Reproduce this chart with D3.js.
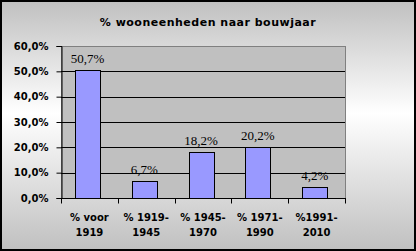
<!DOCTYPE html>
<html>
<head>
<meta charset="utf-8">
<script src="https://cdn.jsdelivr.net/npm/d3@7"></script>
<style>
  html, body { margin: 0; padding: 0; background: #fff; }
  svg { display: block; }
</style>
</head>
<body>
<div id="chart"></div>
<script>
// ── Data ────────────────────────────────────────────────────────────────
const categories = [["% voor", "1919"], ["% 1919-", "1945"], ["% 1945-", "1970"], ["% 1971-", "1990"], ["%1991-", "2010"]];
const values     = [50.7, 6.7, 18.2, 20.2, 4.2];
const yTicks     = [0, 10, 20, 30, 40, 50, 60];
const title      = "% wooneenheden naar bouwjaar";

const W = 416, H = 251;
const plot = { left: 61, right: 345, top: 46, bottom: 198 };
const fmt = (v) => v.toFixed(1).replace(".", ",") + "%";

const svg = d3.select("#chart").append("svg").attr("width", W).attr("height", H);

// background gradient
const grad = svg.append("defs").append("linearGradient")
  .attr("id", "bg").attr("x1", 0).attr("y1", 0).attr("x2", 0).attr("y2", 1);
grad.append("stop").attr("offset", "0%").attr("stop-color", "#c0c0c0");
grad.append("stop").attr("offset", "45%").attr("stop-color", "#ffffff");
grad.append("stop").attr("offset", "100%").attr("stop-color", "#c0c0c0");

svg.append("rect").attr("x", 1).attr("y", 1).attr("width", W - 2).attr("height", H - 2)
  .attr("fill", "url(#bg)").attr("stroke", "#000").attr("stroke-width", 2);

svg.append("text").attr("x", 208).attr("y", 26).attr("text-anchor", "middle")
  .attr("font-family", "Verdana, 'DejaVu Sans', sans-serif").attr("font-weight", "bold")
  .attr("font-size", "11px").attr("letter-spacing", "0.5px").attr("fill", "#000")
  .text(title);

// ── Scales ──────────────────────────────────────────────────────────────
const x = d3.scaleBand().domain(d3.range(values.length))
  .range([plot.left, plot.right]).paddingInner(0.56).paddingOuter(0.28).align(0.44);
const xb = d3.scaleBand().domain(d3.range(values.length)).range([plot.left, plot.right]);
const y = d3.scaleLinear().domain([0, 60]).range([plot.bottom, plot.top]);

// plot area
svg.append("rect").attr("x", plot.left + 0.5).attr("y", plot.top + 0.5)
  .attr("width", plot.right - plot.left).attr("height", plot.bottom - plot.top)
  .attr("fill", "#c0c0c0").attr("stroke", "#808080").attr("stroke-width", 1);

// gridlines
svg.append("g").selectAll("line").data(yTicks.slice(1, -1)).join("line")
  .attr("x1", plot.left).attr("x2", plot.right)
  .attr("y1", (d) => Math.round(y(d)) + 0.5).attr("y2", (d) => Math.round(y(d)) + 0.5)
  .attr("stroke", "#000").attr("stroke-width", 1);

// bars
svg.append("g").selectAll("rect").data(values).join("rect")
  .attr("x", (d, i) => Math.round(x(i)) + 0.5).attr("y", (d) => Math.round(y(d)) + 0.5)
  .attr("width", Math.round(x.bandwidth())).attr("height", (d) => Math.round(y(0)) - Math.round(y(d)))
  .attr("fill", "#9999ff").attr("stroke", "#000").attr("stroke-width", 1);

// data labels
svg.append("g").selectAll("text").data(values).join("text")
  .attr("x", (d, i) => x(i) + x.bandwidth() / 2).attr("y", (d) => y(d) - 7)
  .attr("text-anchor", "middle").attr("font-family", "'Liberation Serif', 'Times New Roman', serif")
  .attr("font-size", "13px").attr("fill", "#000").text(fmt);

// y axis
const yAxis = svg.append("g").attr("transform", `translate(${plot.left + 0.5},0)`)
  .call(d3.axisLeft(y).tickValues(yTicks).tickSize(5).tickPadding(8).tickFormat(fmt));
yAxis.select(".domain").attr("stroke", "#000");
yAxis.selectAll("text").attr("font-family", "Verdana, 'DejaVu Sans', sans-serif")
  .attr("font-weight", "bold").attr("font-size", "10px").attr("fill", "#000");

// x axis
const xAxis = svg.append("g").attr("transform", `translate(0,${plot.bottom + 0.5})`);
xAxis.append("line").attr("x1", plot.left).attr("x2", plot.right + 1).attr("stroke", "#000");
xAxis.selectAll("line.tick").data(d3.range(values.length + 1)).join("line").attr("class", "tick")
  .attr("x1", (i) => Math.round(plot.left + i * xb.bandwidth()) + 0.5)
  .attr("x2", (i) => Math.round(plot.left + i * xb.bandwidth()) + 0.5)
  .attr("y1", 0).attr("y2", 5).attr("stroke", "#000");
const labels = xAxis.selectAll("text").data(categories).join("text")
  .attr("x", (d, i) => xb(i) + xb.bandwidth() / 2).attr("y", 22)
  .attr("text-anchor", "middle").attr("font-family", "Verdana, 'DejaVu Sans', sans-serif")
  .attr("font-weight", "bold").attr("font-size", "10px").attr("fill", "#000");
labels.append("tspan").attr("x", (d, i) => xb(i) + xb.bandwidth() / 2).text((d) => d[0]);
labels.append("tspan").attr("x", (d, i) => xb(i) + xb.bandwidth() / 2).attr("dy", 15).text((d) => d[1]);
</script>
</body>
</html>
